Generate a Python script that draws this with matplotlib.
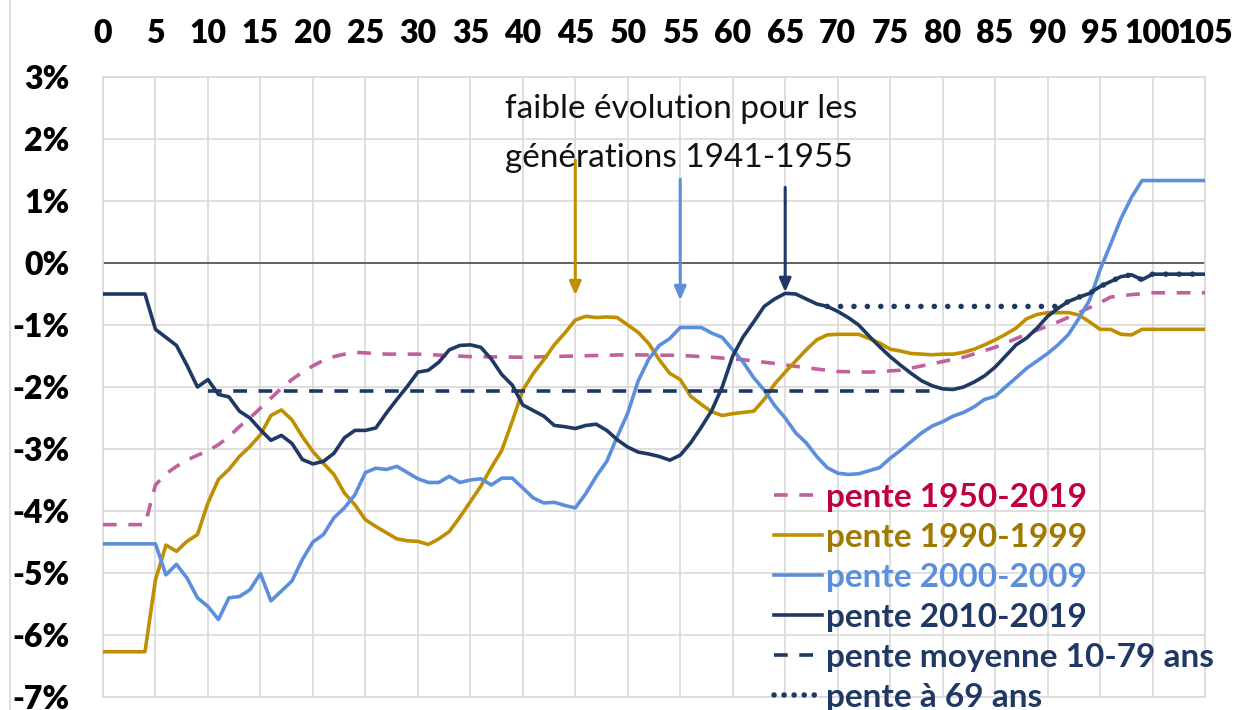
import matplotlib
matplotlib.use("Agg")
import matplotlib.pyplot as plt
from matplotlib.lines import Line2D

# ---------------- data ----------------
ages_2010 = [0, 4] + list(range(5, 101)) + [105]
pente_2010_2019 = [-0.50, -0.50,
    -1.07, -1.20, -1.33, -1.65, -2.00, -1.88, -2.12, -2.16, -2.39, -2.50,   # 5-14
    -2.69, -2.86, -2.78, -2.91, -3.17, -3.24, -3.20, -3.07, -2.82, -2.70,   # 15-24
    -2.70, -2.66, -2.42, -2.20, -1.99, -1.76, -1.73, -1.60, -1.40, -1.33,   # 25-34
    -1.32, -1.36, -1.55, -1.80, -1.97, -2.29, -2.38, -2.47, -2.62, -2.64,   # 35-44
    -2.67, -2.62, -2.60, -2.70, -2.85, -2.97, -3.05, -3.08, -3.12, -3.18,   # 45-54
    -3.10, -2.90, -2.65, -2.38, -2.00, -1.50, -1.19, -0.95, -0.70, -0.58,   # 55-64
    -0.49, -0.50, -0.58, -0.66, -0.70, -0.78, -0.88, -1.00, -1.18, -1.35,   # 65-74
    -1.51, -1.65, -1.78, -1.90, -1.98, -2.03, -2.04, -2.00, -1.92, -1.82,   # 75-84
    -1.68, -1.50, -1.32, -1.21, -1.05, -0.86, -0.73, -0.62, -0.55, -0.49,   # 85-94
    -0.38, -0.30, -0.22, -0.19, -0.27, -0.18,                               # 95-100
    -0.18]

ages_1950 = [0, 4, 5, 6, 7, 8, 9, 10, 11, 12, 13, 14, 15, 16, 17, 18, 19, 20, 21, 22,
             23, 24, 25, 26, 27, 30, 35, 40, 45, 50, 55, 58, 61, 64, 67, 70, 73, 76,
             78, 80, 82, 85, 88, 91, 93, 95, 96, 98, 100, 105]
pente_1950_2019 = [-4.22, -4.22, -3.58, -3.40, -3.28, -3.18, -3.10, -3.03, -2.93, -2.80,
                   -2.64, -2.50, -2.34, -2.18, -2.02, -1.88, -1.76, -1.66, -1.57, -1.51,
                   -1.47, -1.44, -1.45, -1.46, -1.47, -1.47, -1.51, -1.52, -1.50, -1.48,
                   -1.49, -1.52, -1.56, -1.62, -1.69, -1.75, -1.76, -1.73, -1.66, -1.59,
                   -1.52, -1.36, -1.15, -0.95, -0.80, -0.64, -0.55, -0.51, -0.48, -0.48]

ages_1990 = [0, 4] + list(range(5, 100)) + [105]
pente_1990_1999 = [-6.27, -6.27,
    -5.11, -4.55, -4.65, -4.49, -4.38, -3.87, -3.49, -3.33, -3.12, -2.96,   # 5-14
    -2.77, -2.46, -2.37, -2.53, -2.80, -3.04, -3.23, -3.41, -3.71, -3.90,   # 15-24
    -4.14, -4.25, -4.35, -4.45, -4.48, -4.49, -4.54, -4.45, -4.33, -4.10,   # 25-34
    -3.85, -3.60, -3.30, -3.02, -2.55, -2.05, -1.78, -1.56, -1.32, -1.13,   # 35-44
    -0.92, -0.86, -0.88, -0.87, -0.88, -1.00, -1.12, -1.30, -1.56, -1.78,   # 45-54
    -1.88, -2.15, -2.28, -2.40, -2.46, -2.43, -2.41, -2.39, -2.20, -1.95,   # 55-64
    -1.76, -1.58, -1.40, -1.24, -1.16, -1.15, -1.15, -1.15, -1.22, -1.29,   # 65-74
    -1.39, -1.42, -1.46, -1.47, -1.48, -1.47, -1.47, -1.44, -1.39, -1.32,   # 75-84
    -1.24, -1.15, -1.05, -0.90, -0.83, -0.80, -0.80, -0.80, -0.84, -0.95,   # 85-94
    -1.07, -1.07, -1.15, -1.16, -1.07,                                      # 95-99
    -1.07]

ages_2000 = [0] + list(range(5, 100)) + [105]
pente_2000_2009 = [-4.53,
    -4.53, -5.03, -4.86, -5.08, -5.40, -5.54, -5.75, -5.40, -5.38, -5.27,   # 5-14
    -5.01, -5.45, -5.29, -5.13, -4.78, -4.50, -4.38, -4.11, -3.95, -3.74,   # 15-24
    -3.38, -3.31, -3.33, -3.28, -3.38, -3.48, -3.54, -3.54, -3.44, -3.54,   # 25-34
    -3.50, -3.48, -3.58, -3.47, -3.47, -3.63, -3.79, -3.87, -3.86, -3.91,   # 35-44
    -3.95, -3.72, -3.44, -3.20, -2.80, -2.42, -1.90, -1.55, -1.33, -1.22,   # 45-54
    -1.04, -1.04, -1.04, -1.13, -1.20, -1.40, -1.60, -1.85, -2.05, -2.30,   # 55-64
    -2.50, -2.74, -2.90, -3.12, -3.30, -3.39, -3.41, -3.40, -3.35, -3.30,   # 65-74
    -3.15, -3.02, -2.88, -2.74, -2.63, -2.56, -2.47, -2.41, -2.32, -2.20,   # 75-84
    -2.15, -2.00, -1.85, -1.70, -1.58, -1.46, -1.32, -1.15, -0.89, -0.60,   # 85-94
    -0.11, 0.30, 0.72, 1.06, 1.33,                                          # 95-99
    1.33]

ages_moyenne = [10, 79]
pente_moyenne = [-2.07, -2.07]

ages_69 = [69, 91, 92, 93, 94, 95, 96, 97, 98, 99, 100, 105]
pente_69 = [-0.70, -0.70, -0.62, -0.55, -0.49, -0.38, -0.30, -0.22, -0.19, -0.27, -0.18, -0.18]

labels = ["pente 1950-2019", "pente 1990-1999", "pente 2000-2009",
          "pente 2010-2019", "pente moyenne 10-79 ans", "pente à 69 ans"]
x_ticks = list(range(0, 106, 5))
y_ticks = [-7, -6, -5, -4, -3, -2, -1, 0, 1, 2, 3]

annot_lines = ["faible évolution pour les", "générations 1941-1955"]
arrow_ages = [45, 55, 65]
arrow_top = [1.66, 1.35, 1.22]
arrow_tip = [-0.52, -0.6, -0.47]

# ---------------- style ----------------
PINK = "#C0609C"
GOLD = "#BF8F00"
BLUE = "#5B8EDB"
NAVY = "#1F3864"
TXT_RED = "#C0003C"
TXT_GOLD = "#9E7A00"

FONT = "Lato"
plt.rcParams["font.family"] = [FONT, "DejaVu Sans"]

fig = plt.figure(figsize=(12.36, 7.10), dpi=100)
ax = fig.add_axes([103 / 1236, 1 - 697 / 710, (1205 - 103) / 1236, (697 - 77) / 710])

ax.set_xlim(0, 105)
ax.set_ylim(-7, 3)
ax.set_xticks(x_ticks)
ax.set_yticks(y_ticks)
ax.set_xticklabels([str(v) for v in x_ticks])
ax.set_yticklabels([f"{v}%" for v in y_ticks])
ax.xaxis.tick_top()
ax.tick_params(axis="x", length=0, pad=21, labelsize=23)
ax.tick_params(axis="y", length=0, pad=24, labelsize=23)
for lab in ax.get_xticklabels() + ax.get_yticklabels():
    lab.set_fontweight("heavy")
ax.grid(True, color="#D9D9D9", lw=1.2)
ax.set_axisbelow(True)
for s in ax.spines.values():
    s.set_color("#D9D9D9")
    s.set_linewidth(1.2)
ax.axhline(0, color="#595959", lw=1.3, zorder=1.5)

lw = 2.6
DASH = (0, (3.8, 3.2))
DOT = (0, (0.01, 2.4))
ax.plot(ages_1950, pente_1950_2019, color=PINK, lw=lw, ls=DASH, zorder=3)
ax.plot(ages_1990, pente_1990_1999, color=GOLD, lw=lw, zorder=3)
ax.plot(ages_2000, pente_2000_2009, color=BLUE, lw=lw, zorder=3)
ax.plot(ages_2010, pente_2010_2019, color=NAVY, lw=lw, zorder=4)
ax.plot(ages_moyenne, pente_moyenne, color=NAVY, lw=lw, ls=DASH, zorder=3)
ax.plot(ages_69, pente_69, color=NAVY, lw=4, ls=DOT, dash_capstyle="round", zorder=4)

for xa, yt, yb, c in zip(arrow_ages, arrow_top, arrow_tip, [GOLD, BLUE, NAVY]):
    ax.annotate("", xy=(xa, yb), xytext=(xa, yt),
                arrowprops=dict(arrowstyle="-|>,head_length=0.8,head_width=0.35",
                                color=c, lw=2.2, shrinkA=0, shrinkB=0), zorder=5)

ax.text(38.3, 2.48, annot_lines[0], fontsize=24, color="#111111", va="center", ha="left")
ax.text(38.3, 1.70, annot_lines[1], fontsize=24, color="#111111", va="center", ha="left")

handles = [Line2D([], [], color=PINK, lw=lw, ls=DASH),
           Line2D([], [], color=GOLD, lw=lw),
           Line2D([], [], color=BLUE, lw=lw),
           Line2D([], [], color=NAVY, lw=lw),
           Line2D([], [], color=NAVY, lw=lw, ls=DASH),
           Line2D([], [], color=NAVY, lw=4, ls=(0, (0.01, 1.8)), dash_capstyle="round")]
leg = fig.legend(handles, labels, loc="lower left",
                 bbox_to_anchor=(774 / 1236, -2 / 710),
                 frameon=False, handlelength=1.45, handletextpad=0.1,
                 labelspacing=0.33, borderpad=0, borderaxespad=0,
                 labelcolor=[TXT_RED, TXT_GOLD, BLUE, NAVY, NAVY, NAVY],
                 prop={"weight": "bold", "size": 24, "family": FONT})

fig.add_artist(Line2D([10 / 1236, 10 / 1236], [0, 1], color="#D9D9D9", lw=1.2,
                      transform=fig.transFigure))

fig.savefig("out.png", dpi=100)
